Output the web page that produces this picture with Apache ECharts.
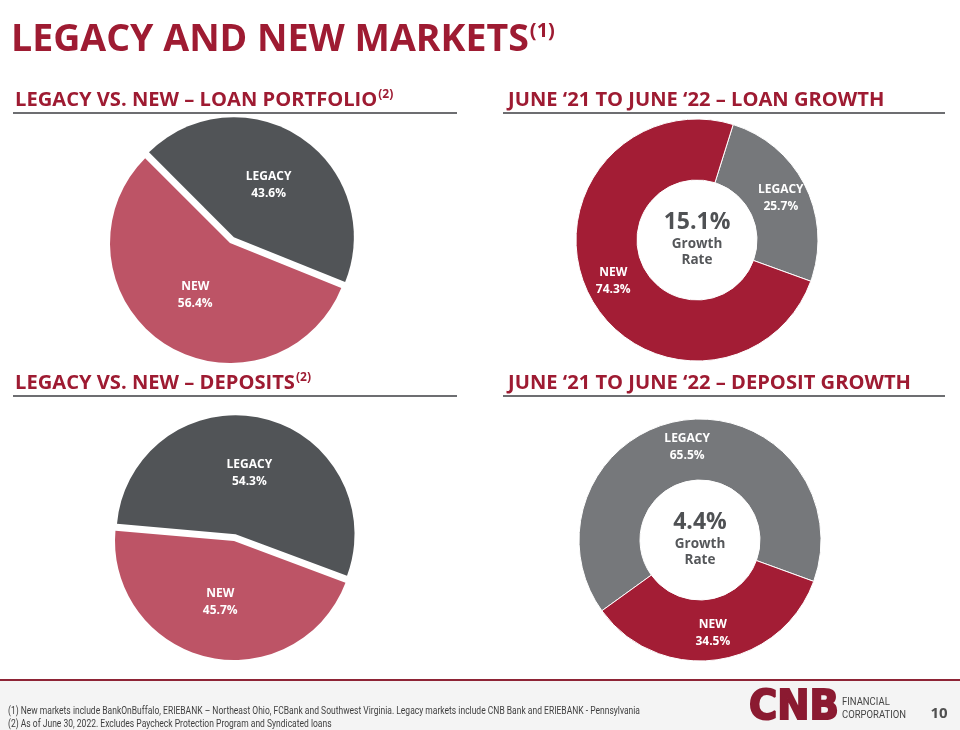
<!DOCTYPE html>
<html><head><meta charset="utf-8">
<script src="https://cdn.jsdelivr.net/npm/echarts@6/dist/echarts.min.js"></script>
<style>html,body{margin:0;padding:0;background:#fff}#c{width:960px;height:730px}</style>
</head><body><div id="c"></div>
<script>
// ---- data ----
const pageTitle = 'LEGACY AND NEW MARKETS';
const pageTitleNote = '(1)';
const panelTitles = ['LEGACY VS. NEW – LOAN PORTFOLIO', 'JUNE ‘21 TO JUNE ‘22 – LOAN GROWTH', 'LEGACY VS. NEW – DEPOSITS', 'JUNE ‘21 TO JUNE ‘22 – DEPOSIT GROWTH'];
const panelTitleNotes = ['(2)', '', '(2)', ''];
const categories = ['LEGACY', 'NEW'];
const loanPortfolio = [43.6, 56.4];
const loanGrowth = [25.7, 74.3];
const depositPortfolio = [54.3, 45.7];
const depositGrowth = [65.5, 34.5];
const growthRates = ['15.1%', '4.4%'];
const growthCaption = ['Growth', 'Rate'];
const footnotes = [
  '(1) New markets include BankOnBuffalo, ERIEBANK – Northeast Ohio, FCBank and Southwest Virginia. Legacy markets include CNB Bank and ERIEBANK - Pennsylvania',
  '(2) As of June 30, 2022. Excludes Paycheck Protection Program and Syndicated loans'
];
const logoMark = 'CNB';
const logoWords = ['FINANCIAL', 'CORPORATION'];
const pageNumber = '10';

// ---- styling / layout ----
const RED = '#9e1b32';
const F = '"Open Sans", "DejaVu Sans", sans-serif';
const mctx = document.createElement('canvas').getContext('2d');
function tw(text, font) { mctx.font = font; return mctx.measureText(text).width; }

const chart = echarts.init(document.getElementById('c'), null, {renderer: 'canvas'});

function pieSeries(values, center, radius, startAngle, colors, explode) {
  return {
    type: 'pie', center: center, radius: radius, startAngle: startAngle, clockwise: true,
    animation: false, silent: true,
    selectedMode: explode ? 'single' : false, selectedOffset: 7,
    label: {
      show: true, position: 'inside', color: '#fff', fontFamily: F, fontWeight: 'bold',
      fontSize: 12, lineHeight: 17,
      formatter: p => p.name + '\n' + p.value.toFixed(1) + '%'
    },
    labelLine: {show: false},
    emphasis: {disabled: true},
    itemStyle: {borderColor: '#fff', borderWidth: explode ? 0 : 1},
    data: categories.map((c, i) => ({
      name: c, value: values[i], selected: explode && i === 0,
      itemStyle: {color: colors[i]}
    }))
  };
}

const graphics = [];
function text(t, x, y, font, fill, extra) {
  const el = {type: 'text', x: x, y: y, silent: true,
    style: Object.assign({text: t, font: font, fill: fill, align: 'left', verticalAlign: 'middle',
      textAlign: 'left', textVerticalAlign: 'middle'}, extra && extra.style || {})};
  if (extra) { Object.keys(extra).forEach(k => { if (k !== 'style') el[k] = extra[k]; }); }
  graphics.push(el);
}

// page title
const titleFont = 'bold 37.5px ' + F;
text(pageTitle, 11, 40, titleFont, RED);
text(pageTitleNote, 11 + tw(pageTitle, titleFont) + 1, 31, 'bold 20px ' + F, RED);

// panel titles + rules
const panelPos = [[15, 101, 13, 457, 113], [508, 101, 503, 945, 113], [15, 384, 13, 457, 396], [508, 384, 503, 945, 396]];
const panelFont = 'bold 19px ' + F;
const panelScale = 1.06;
panelTitles.forEach((t, i) => {
  const p = panelPos[i];
  text(t, p[0], p[1], panelFont, RED, {scaleX: panelScale});
  if (panelTitleNotes[i]) text(panelTitleNotes[i], p[0] + tw(t, panelFont) * panelScale + 1, p[1] - 6, 'bold 12px ' + F, RED);
  graphics.push({type: 'line', silent: true, shape: {x1: p[2], y1: p[4], x2: p[3], y2: p[4]}, style: {stroke: '#6d6e71', lineWidth: 2}});
});

// donut centre captions
[[697, 240], [700, 540]].forEach((c, i) => {
  const s = {align: 'center', textAlign: 'center'};
  text(growthRates[i], c[0], c[1] - 18, 'bold 23px ' + F, '#4f5154', {style: s});
  text(growthCaption[0], c[0], c[1] + 4, 'bold 13.5px ' + F, '#55575a', {style: s});
  text(growthCaption[1], c[0], c[1] + 20, 'bold 13.5px ' + F, '#55575a', {style: s});
});

// footer
graphics.push({type: 'rect', silent: true, shape: {x: 0, y: 681, width: 960, height: 49}, style: {fill: '#f4f4f4'}});
graphics.push({type: 'line', silent: true, shape: {x1: 0, y1: 680, x2: 960, y2: 680}, style: {stroke: '#8e2436', lineWidth: 2}});
const fnFont = '11px Roboto, "Liberation Sans", sans-serif';
const fnScale = 632 / tw(footnotes[0], fnFont);
footnotes.forEach((t, i) => text(t, 8, 711 + i * 13, fnFont, '#3f3f3f', {scaleX: fnScale}));

// logo
const logoFont = 'bold 41px "DejaVu Sans", sans-serif';
const logoScale = 90 / tw(logoMark, logoFont);
text(logoMark, 749, 708, logoFont, '#8b1a31', {scaleX: logoScale, style: {stroke: '#8b1a31', lineWidth: 2}});
const lwFont = '11px Roboto, sans-serif';
const lwScale = 64 / tw(logoWords[1], lwFont);
text(logoWords[0], 842, 702, lwFont, '#454545', {scaleX: lwScale});
text(logoWords[1], 842, 715, lwFont, '#454545', {scaleX: lwScale});
text(pageNumber, 939, 714, 'bold 15px ' + F, '#505050', {style: {align: 'center', textAlign: 'center'}});

chart.setOption({
  backgroundColor: '#fff',
  animation: false,
  series: [
    pieSeries(loanPortfolio, [230, 243], 120, 135, ['#515457', '#bd5466'], true),
    pieSeries(loanGrowth, [697, 240], [60, 121], 72.6, ['#76787b', '#a31d35'], false),
    pieSeries(depositPortfolio, [234, 541], 119, 175, ['#515457', '#bd5466'], true),
    pieSeries(depositGrowth, [700, 540], [60, 121], 215.8, ['#76787b', '#a31d35'], false)
  ],
  graphic: {elements: graphics}
});
</script>
</body></html>
